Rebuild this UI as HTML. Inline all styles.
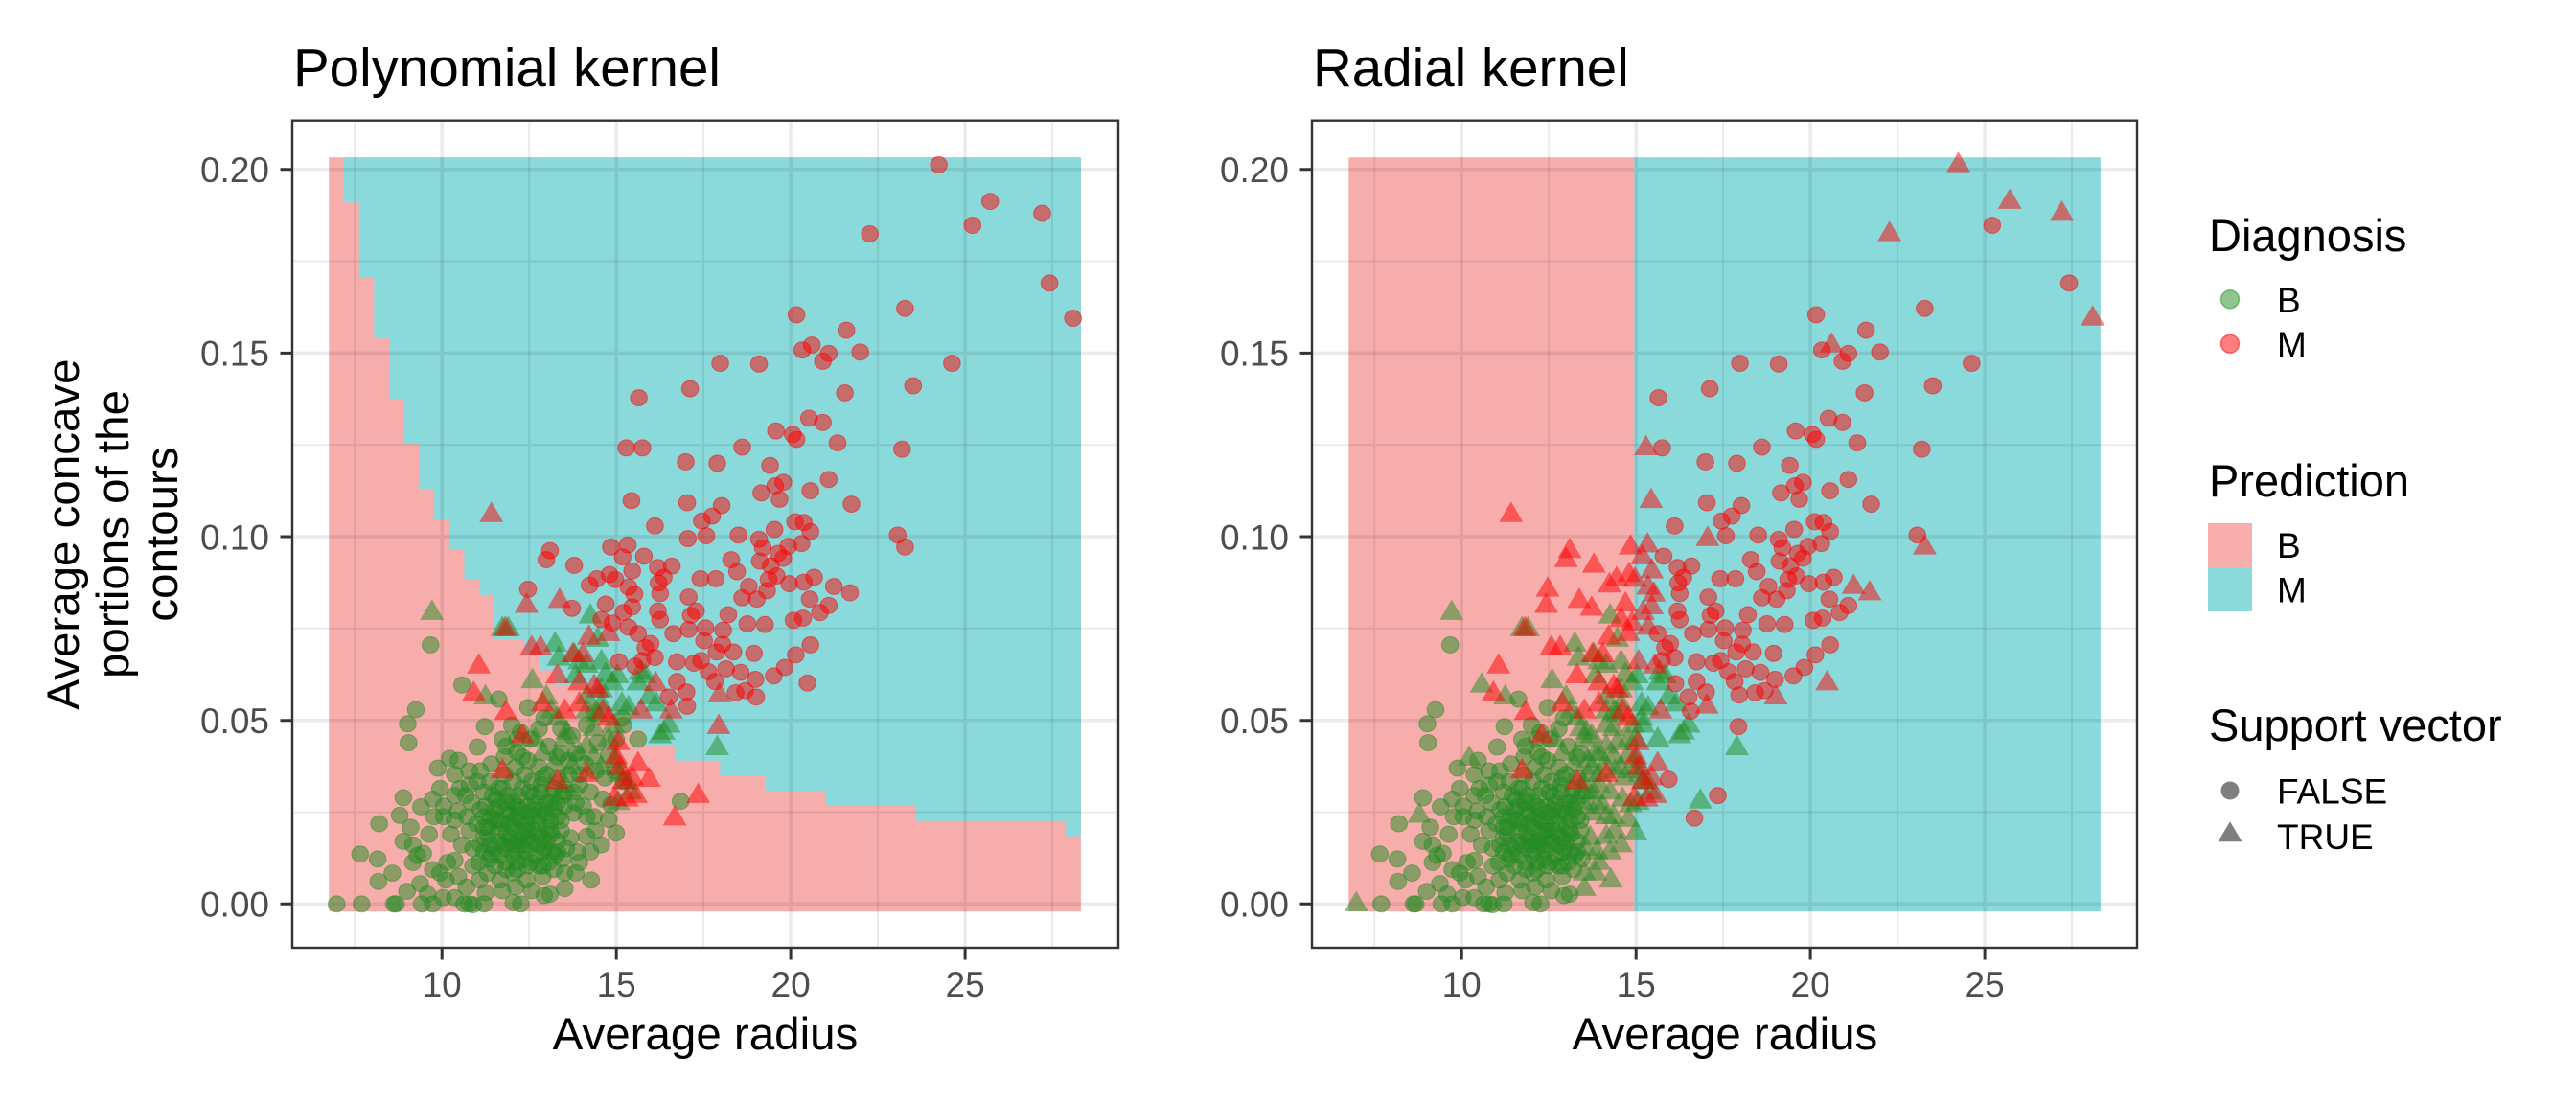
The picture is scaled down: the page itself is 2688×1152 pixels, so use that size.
<!DOCTYPE html>
<html><head><meta charset="utf-8"><style>
html,body{margin:0;padding:0;background:#fff;width:2688px;height:1152px;overflow:hidden;}
svg{display:block;}
text{font-family:"Liberation Sans",Arial,sans-serif;}
</style></head><body>
<svg width="2688" height="1152" viewBox="0 0 2688 1152" xmlns="http://www.w3.org/2000/svg">
<defs>
<circle id="g" r="11.5" fill="#228B22" fill-opacity="0.5" stroke="#228B22" stroke-opacity="0.5" stroke-width="1.3"/>
<circle id="r" r="11.5" fill="#FF0000" fill-opacity="0.5" stroke="#FF0000" stroke-opacity="0.5" stroke-width="1.3"/>
<path id="G" d="M0,-18.6L16.3,10.5L-16.3,10.5Z" fill="#228B22" fill-opacity="0.5"/>
<path id="R" d="M0,-18.6L16.3,10.5L-16.3,10.5Z" fill="#FF0000" fill-opacity="0.5"/>
<g id="core">
<use href="#g" x="660" y="1160"/><use href="#g" x="675" y="1165"/><use href="#g" x="690" y="1150"/><use href="#g" x="705" y="1160"/><use href="#g" x="720" y="1155"/><use href="#g" x="735" y="1170"/><use href="#g" x="750" y="1180"/><use href="#g" x="665" y="1185"/><use href="#g" x="680" y="1195"/><use href="#g" x="695" y="1190"/><use href="#g" x="710" y="1200"/><use href="#g" x="725" y="1195"/><use href="#g" x="740" y="1210"/><use href="#g" x="655" y="1200"/><use href="#g" x="670" y="1215"/><use href="#g" x="685" y="1200"/><use href="#g" x="700" y="1215"/><use href="#g" x="715" y="1220"/><use href="#g" x="730" y="1215"/><use href="#g" x="745" y="1195"/><use href="#g" x="700" y="1165"/><use href="#g" x="715" y="1180"/><use href="#g" x="730" y="1140"/><use href="#g" x="745" y="1155"/><use href="#g" x="690" y="1140"/><use href="#g" x="705" y="1145"/><use href="#g" x="675" y="1150"/><use href="#g" x="660" y="1175"/><use href="#g" x="690" y="1225"/><use href="#g" x="705" y="1235"/><use href="#g" x="720" y="1180"/><use href="#g" x="735" y="1185"/><use href="#g" x="750" y="1140"/><use href="#g" x="760" y="1160"/><use href="#g" x="760" y="1210"/><use href="#g" x="755" y="1235"/><use href="#g" x="740" y="1230"/><use href="#g" x="700" y="1200"/><use href="#g" x="680" y="1165"/><use href="#g" x="720" y="1200"/>
</g>
</defs>
<rect width="2688" height="1152" fill="#fff"/>

<!-- Titles -->
<text x="306" y="90" font-size="56.5" fill="#000">Polynomial kernel</text>
<text x="1370" y="90" font-size="56.5" fill="#000">Radial kernel</text>

<!-- LEFT PANEL fills -->
<rect x="343.3" y="164.2" width="784.6" height="787" fill="#F7ADAC"/>
<path d="M359.0,164.2H1127.9V872.5H1112.2V856.8H955.3V841.0H861.1V825.3H798.4V809.6H751.3V793.8H704.2V778.1H672.8V762.3H657.1V746.6H625.8V730.9H610.1V715.1H578.7V699.4H563.0V683.6H547.3V667.9H515.9V620.7H500.2V604.9H484.5V573.5H468.8V542.0H453.1V510.5H437.4V463.3H421.8V416.1H406.1V353.1H390.4V290.1H374.7V211.4H359.0Z" fill="#8AD9DB"/>
<!-- left grid -->
<path d="M370.2,125.7V989M552.2,125.7V989M734.1,125.7V989M916.1,125.7V989M1098,125.7V989M305,847.5H1167M305,655.8H1167M305,464.2H1167M305,272.5H1167" stroke="#000" stroke-opacity="0.078" stroke-width="2"/>
<path d="M461.2,125.7V989M643.2,125.7V989M825.1,125.7V989M1007.1,125.7V989M305,943.3H1167M305,751.7H1167M305,560H1167M305,368.4H1167M305,176.7H1167" stroke="#000" stroke-opacity="0.078" stroke-width="3.5"/>

<!-- RIGHT PANEL fills -->
<rect x="1407.3" y="164.2" width="298.1" height="787" fill="#F7ADAC"/>
<rect x="1705.4" y="164.2" width="486.5" height="787" fill="#8AD9DB"/>
<g transform="translate(1064,0)">
<path d="M370.2,125.7V989M552.2,125.7V989M734.1,125.7V989M916.1,125.7V989M1098,125.7V989M305,847.5H1167M305,655.8H1167M305,464.2H1167M305,272.5H1167" stroke="#000" stroke-opacity="0.078" stroke-width="2"/>
<path d="M461.2,125.7V989M643.2,125.7V989M825.1,125.7V989M1007.1,125.7V989M305,943.3H1167M305,751.7H1167M305,560H1167M305,368.4H1167M305,176.7H1167" stroke="#000" stroke-opacity="0.078" stroke-width="3.5"/>
</g>

<!-- LEFT POINTS -->
<g transform="matrix(0.76531,0,0,0.73469,0,0)">
<use href="#g" x="459" y="1284"/><use href="#g" x="493" y="1284"/><use href="#g" x="537" y="1284"/><use href="#g" x="540" y="1284"/><use href="#g" x="575" y="1284"/><use href="#g" x="590" y="1284"/><use href="#g" x="633" y="1284"/><use href="#g" x="640" y="1284"/><use href="#g" x="660" y="1284"/><use href="#g" x="710" y="1284"/><use href="#g" x="491" y="1213"/><use href="#g" x="517" y="1170"/><use href="#g" x="516" y="1252"/><use href="#g" x="535" y="1240"/><use href="#g" x="550" y="1133"/><use href="#g" x="557" y="1055"/><use href="#g" x="556" y="1028"/><use href="#g" x="567" y="1008"/><use href="#g" x="587" y="916"/><use href="#g" x="597" y="1091"/><use href="#g" x="613" y="1077"/><use href="#g" x="630" y="973"/><use href="#g" x="680" y="993"/><use href="#g" x="661" y="1032"/><use href="#g" x="651" y="1061"/><use href="#g" x="627" y="1120"/><use href="#g" x="605" y="1160"/><use href="#g" x="577" y="1212"/><use href="#g" x="569" y="1215"/><use href="#g" x="573" y="1255"/><use href="#g" x="583" y="1270"/><use href="#g" x="604" y="1275"/><use href="#g" x="608" y="1250"/><use href="#g" x="610" y="1225"/><use href="#g" x="545" y="1158"/><use href="#g" x="550" y="1195"/><use href="#g" x="560" y="1175"/><use href="#g" x="563" y="1200"/><use href="#g" x="585" y="1185"/><use href="#g" x="592" y="1160"/><use href="#g" x="574" y="1146"/><use href="#g" x="624" y="1152"/><use href="#g" x="640" y="1180"/><use href="#g" x="645" y="1205"/><use href="#g" x="653" y="1225"/><use href="#g" x="654" y="1250"/><use href="#g" x="662" y="1268"/><use href="#g" x="682" y="1250"/><use href="#g" x="703" y="1260"/><use href="#g" x="718" y="1250"/><use href="#g" x="742" y="1272"/><use href="#g" x="770" y="1262"/><use href="#g" x="806" y="1250"/><use href="#g" x="785" y="1240"/><use href="#g" x="767" y="1220"/><use href="#g" x="752" y="1210"/><use href="#g" x="735" y="1230"/><use href="#g" x="724" y="1225"/><use href="#g" x="705" y="1225"/><use href="#g" x="690" y="1235"/><use href="#g" x="675" y="1230"/><use href="#g" x="668" y="1200"/><use href="#g" x="660" y="1190"/><use href="#g" x="636" y="1260"/><use href="#g" x="625" y="1245"/><use href="#g" x="620" y="1222"/><use href="#g" x="690" y="1205"/><use href="#g" x="706" y="1195"/><use href="#g" x="717" y="1208"/><use href="#g" x="740" y="1190"/><use href="#g" x="760" y="1195"/><use href="#g" x="778" y="1190"/><use href="#g" x="800" y="1188"/><use href="#g" x="812" y="1180"/><use href="#g" x="840" y="1183"/><use href="#g" x="830" y="1164"/><use href="#g" x="800" y="1160"/><use href="#g" x="782" y="1155"/><use href="#g" x="765" y="1165"/><use href="#g" x="750" y="1165"/><use href="#g" x="735" y="1160"/><use href="#g" x="718" y="1170"/><use href="#g" x="700" y="1175"/><use href="#g" x="684" y="1170"/><use href="#g" x="670" y="1160"/><use href="#g" x="655" y="1150"/><use href="#g" x="643" y="1140"/><use href="#g" x="640" y="1115"/><use href="#g" x="655" y="1095"/><use href="#g" x="670" y="1085"/><use href="#g" x="688" y="1075"/><use href="#g" x="705" y="1068"/><use href="#g" x="720" y="1080"/><use href="#g" x="735" y="1090"/><use href="#g" x="745" y="1100"/><use href="#g" x="760" y="1105"/><use href="#g" x="775" y="1100"/><use href="#g" x="790" y="1115"/><use href="#g" x="805" y="1125"/><use href="#g" x="822" y="1135"/><use href="#g" x="833" y="1143"/><use href="#g" x="760" y="1140"/><use href="#g" x="745" y="1140"/><use href="#g" x="728" y="1130"/><use href="#g" x="712" y="1120"/><use href="#g" x="700" y="1110"/><use href="#g" x="685" y="1120"/><use href="#g" x="672" y="1130"/><use href="#g" x="660" y="1125"/><use href="#g" x="700" y="1140"/><use href="#g" x="720" y="1145"/><use href="#g" x="738" y="1115"/><use href="#g" x="755" y="1120"/><use href="#g" x="770" y="1125"/><use href="#g" x="680" y="1145"/><use href="#g" x="695" y="1155"/><use href="#g" x="710" y="1150"/><use href="#g" x="728" y="1150"/><use href="#g" x="745" y="1175"/><use href="#g" x="688" y="1100"/><use href="#g" x="703" y="1090"/><use href="#g" x="723" y="1050"/><use href="#g" x="735" y="1035"/><use href="#g" x="710" y="1040"/><use href="#g" x="712" y="1075"/><use href="#g" x="685" y="1050"/><use href="#g" x="698" y="1030"/><use href="#g" x="720" y="1005"/><use href="#g" x="742" y="1020"/><use href="#g" x="748" y="1060"/><use href="#g" x="760" y="1075"/><use href="#g" x="775" y="1080"/><use href="#g" x="785" y="1070"/><use href="#g" x="798" y="1085"/><use href="#g" x="812" y="1095"/><use href="#g" x="825" y="1105"/><use href="#g" x="838" y="1095"/><use href="#g" x="850" y="1110"/><use href="#g" x="680" y="1120"/><use href="#g" x="651" y="1110"/><use href="#g" x="668" y="1110"/><use href="#g" x="635" y="1130"/><use href="#g" x="620" y="1130"/><use href="#g" x="605" y="1145"/><use href="#g" x="590" y="1135"/><use href="#g" x="600" y="1120"/><use href="#g" x="620" y="1100"/><use href="#g" x="780" y="1045"/><use href="#g" x="800" y="1030"/><use href="#g" x="815" y="1055"/><use href="#g" x="765" y="1035"/><use href="#g" x="830" y="1072"/><use href="#g" x="840" y="1050"/><use href="#g" x="850" y="1030"/><use href="#g" x="848" y="1020"/><use href="#g" x="870" y="1050"/><use href="#g" x="810" y="1012"/><use href="#g" x="720" y="1190"/><use href="#g" x="735" y="1200"/><use href="#g" x="752" y="1185"/><use href="#g" x="690" y="1185"/><use href="#g" x="675" y="1205"/><use href="#g" x="660" y="1210"/><use href="#g" x="600" y="1240"/><use href="#g" x="590" y="1235"/><use href="#g" x="563" y="1225"/><use href="#g" x="620" y="1275"/><use href="#g" x="645" y="1285"/><use href="#g" x="700" y="1282"/><use href="#g" x="750" y="1270"/><use href="#g" x="515" y="1220"/><use href="#g" x="928" y="1138"/><use href="#g" x="650" y="1170"/><use href="#g" x="665" y="1175"/><use href="#g" x="680" y="1180"/><use href="#g" x="695" y="1170"/><use href="#g" x="710" y="1165"/><use href="#g" x="725" y="1160"/><use href="#g" x="740" y="1150"/><use href="#g" x="755" y="1150"/><use href="#g" x="770" y="1145"/><use href="#g" x="785" y="1140"/><use href="#g" x="662" y="1145"/><use href="#g" x="677" y="1135"/><use href="#g" x="692" y="1130"/><use href="#g" x="707" y="1130"/><use href="#g" x="722" y="1125"/><use href="#g" x="737" y="1125"/><use href="#g" x="752" y="1130"/><use href="#g" x="767" y="1130"/><use href="#g" x="782" y="1125"/><use href="#g" x="697" y="1195"/><use href="#g" x="712" y="1185"/><use href="#g" x="727" y="1180"/><use href="#g" x="742" y="1205"/><use href="#g" x="757" y="1215"/><use href="#g" x="772" y="1205"/><use href="#g" x="787" y="1210"/><use href="#g" x="682" y="1215"/><use href="#g" x="667" y="1220"/><use href="#g" x="645" y="1230"/><use href="#g" x="630" y="1200"/><use href="#g" x="615" y="1185"/><use href="#g" x="620" y="1165"/><use href="#g" x="637" y="1160"/><use href="#g" x="705" y="1210"/><use href="#g" x="720" y="1230"/><use href="#g" x="740" y="1245"/><use href="#g" x="770" y="1240"/><use href="#g" x="790" y="1225"/><use href="#g" x="805" y="1210"/><use href="#g" x="820" y="1200"/><use href="#g" x="810" y="1160"/><use href="#g" x="795" y="1145"/><use href="#g" x="765" y="1180"/><use href="#g" x="748" y="1225"/><use href="#g" x="700" y="1240"/><use href="#g" x="685" y="1265"/><use href="#g" x="725" y="1265"/><use href="#g" x="665" y="1240"/><use href="#g" x="640" y="1095"/><use href="#g" x="625" y="1080"/><use href="#g" x="690" y="1060"/><use href="#g" x="705" y="1050"/><use href="#g" x="715" y="1100"/><use href="#g" x="725" y="1110"/><use href="#g" x="740" y="1105"/><use href="#g" x="790" y="1100"/><use href="#g" x="765" y="1070"/><use href="#g" x="555" y="1266"/>
<use href="#core"/>
<use href="#G" x="589" y="870"/><use href="#G" x="662" y="990"/><use href="#G" x="685" y="893"/><use href="#G" x="693" y="893"/><use href="#G" x="726" y="967"/><use href="#G" x="745" y="990"/><use href="#G" x="752" y="1010"/><use href="#G" x="760" y="1020"/><use href="#G" x="770" y="1050"/><use href="#G" x="773" y="1040"/><use href="#G" x="762" y="935"/><use href="#G" x="757" y="915"/><use href="#G" x="783" y="930"/><use href="#G" x="790" y="940"/><use href="#G" x="800" y="945"/><use href="#G" x="805" y="875"/><use href="#G" x="815" y="908"/><use href="#G" x="820" y="940"/><use href="#G" x="826" y="958"/><use href="#G" x="835" y="970"/><use href="#G" x="842" y="960"/><use href="#G" x="848" y="1000"/><use href="#G" x="820" y="1000"/><use href="#G" x="836" y="1030"/><use href="#G" x="815" y="1015"/><use href="#G" x="800" y="1010"/><use href="#G" x="810" y="1035"/><use href="#G" x="830" y="1050"/><use href="#G" x="840" y="1080"/><use href="#G" x="845" y="1100"/><use href="#G" x="855" y="1110"/><use href="#G" x="860" y="1125"/><use href="#G" x="843" y="1140"/><use href="#G" x="873" y="955"/><use href="#G" x="885" y="990"/><use href="#G" x="895" y="1000"/><use href="#G" x="900" y="1045"/><use href="#G" x="912" y="1030"/><use href="#G" x="905" y="1040"/><use href="#G" x="880" y="960"/><use href="#G" x="870" y="970"/><use href="#G" x="978" y="1062"/><use href="#G" x="820" y="1090"/><use href="#G" x="810" y="1075"/><use href="#G" x="800" y="1060"/><use href="#G" x="790" y="1070"/><use href="#G" x="780" y="1090"/><use href="#G" x="770" y="1115"/><use href="#G" x="756" y="1085"/><use href="#G" x="740" y="1070"/><use href="#G" x="730" y="1050"/><use href="#G" x="785" y="960"/><use href="#G" x="820" y="980"/><use href="#G" x="800" y="990"/><use href="#G" x="857" y="1005"/>
<use href="#r" x="1280" y="234"/><use href="#r" x="1350" y="286"/><use href="#r" x="1326" y="320"/><use href="#r" x="1421" y="303"/><use href="#r" x="1186" y="332"/><use href="#r" x="1431" y="402"/><use href="#r" x="1463" y="452"/><use href="#r" x="1234" y="438"/><use href="#r" x="1086" y="447"/><use href="#r" x="1154" y="469"/><use href="#r" x="1173" y="500"/><use href="#r" x="1094" y="497"/><use href="#r" x="1107" y="490"/><use href="#r" x="1122" y="513"/><use href="#r" x="1130" y="502"/><use href="#r" x="982" y="516"/><use href="#r" x="1035" y="517"/><use href="#r" x="1298" y="516"/><use href="#r" x="1245" y="548"/><use href="#r" x="1152" y="558"/><use href="#r" x="941" y="552"/><use href="#r" x="871" y="565"/><use href="#r" x="1230" y="638"/><use href="#r" x="1103" y="594"/><use href="#r" x="1122" y="600"/><use href="#r" x="1058" y="612"/><use href="#r" x="1081" y="617"/><use href="#r" x="1086" y="624"/><use href="#r" x="1142" y="629"/><use href="#r" x="1012" y="635"/><use href="#r" x="854" y="636"/><use href="#r" x="876" y="636"/><use href="#r" x="935" y="656"/><use href="#r" x="978" y="658"/><use href="#r" x="1050" y="661"/><use href="#r" x="1130" y="681"/><use href="#r" x="1105" y="697"/><use href="#r" x="1057" y="690"/><use href="#r" x="1068" y="685"/><use href="#r" x="1038" y="700"/><use href="#r" x="1063" y="709"/><use href="#r" x="1161" y="716"/><use href="#r" x="937" y="714"/><use href="#r" x="861" y="711"/><use href="#r" x="984" y="718"/><use href="#r" x="971" y="733"/><use href="#r" x="957" y="740"/><use href="#r" x="1096" y="742"/><use href="#r" x="1056" y="752"/><use href="#r" x="1084" y="741"/><use href="#r" x="1105" y="755"/><use href="#r" x="893" y="747"/><use href="#r" x="1224" y="760"/><use href="#r" x="1234" y="777"/><use href="#r" x="750" y="782"/><use href="#r" x="745" y="795"/><use href="#r" x="783" y="803"/><use href="#r" x="833" y="777"/><use href="#r" x="856" y="774"/><use href="#r" x="878" y="790"/><use href="#r" x="1007" y="760"/><use href="#r" x="1035" y="766"/><use href="#r" x="1040" y="778"/><use href="#r" x="1061" y="786"/><use href="#r" x="1075" y="776"/><use href="#r" x="1093" y="772"/><use href="#r" x="1068" y="793"/><use href="#r" x="1036" y="797"/><use href="#r" x="1051" y="804"/><use href="#r" x="963" y="761"/><use href="#r" x="938" y="765"/><use href="#r" x="897" y="806"/><use href="#r" x="916" y="804"/><use href="#r" x="905" y="820"/><use href="#r" x="898" y="828"/><use href="#r" x="849" y="791"/><use href="#r" x="862" y="811"/><use href="#r" x="831" y="816"/><use href="#r" x="839" y="823"/><use href="#r" x="857" y="834"/><use href="#r" x="865" y="844"/><use href="#r" x="804" y="831"/><use href="#r" x="814" y="822"/><use href="#r" x="826" y="858"/><use href="#r" x="862" y="862"/><use href="#r" x="897" y="868"/><use href="#r" x="900" y="843"/><use href="#r" x="939" y="848"/><use href="#r" x="955" y="822"/><use href="#r" x="976" y="822"/><use href="#r" x="997" y="795"/><use href="#r" x="1005" y="812"/><use href="#r" x="1021" y="833"/><use href="#r" x="1048" y="823"/><use href="#r" x="1059" y="818"/><use href="#r" x="1096" y="827"/><use href="#r" x="1110" y="820"/><use href="#r" x="1137" y="833"/><use href="#r" x="1159" y="842"/><use href="#r" x="1104" y="851"/><use href="#r" x="1076" y="829"/><use href="#r" x="1012" y="849"/><use href="#r" x="1032" y="851"/><use href="#r" x="1046" y="839"/><use href="#r" x="1019" y="886"/><use href="#r" x="1043" y="887"/><use href="#r" x="1095" y="878"/><use href="#r" x="1082" y="881"/><use href="#r" x="942" y="874"/><use href="#r" x="939" y="894"/><use href="#r" x="962" y="892"/><use href="#r" x="949" y="868"/><use href="#r" x="993" y="873"/><use href="#r" x="986" y="895"/><use href="#r" x="1105" y="916"/><use href="#r" x="1028" y="928"/><use href="#r" x="1000" y="926"/><use href="#r" x="977" y="926"/><use href="#r" x="923" y="940"/><use href="#r" x="946" y="942"/><use href="#r" x="956" y="938"/><use href="#r" x="887" y="914"/><use href="#r" x="857" y="891"/><use href="#r" x="876" y="938"/><use href="#r" x="893" y="934"/><use href="#r" x="923" y="968"/><use href="#r" x="936" y="983"/><use href="#r" x="966" y="954"/><use href="#r" x="1030" y="965"/><use href="#r" x="1101" y="970"/><use href="#r" x="1016" y="981"/><use href="#r" x="1031" y="990"/><use href="#r" x="1003" y="984"/><use href="#r" x="937" y="1003"/><use href="#r" x="912" y="990"/><use href="#r" x="844" y="940"/><use href="#r" x="866" y="946"/><use href="#r" x="850" y="870"/><use href="#r" x="835" y="885"/><use href="#r" x="820" y="880"/><use href="#r" x="870" y="900"/><use href="#r" x="880" y="920"/><use href="#r" x="975" y="968"/><use href="#r" x="990" y="950"/><use href="#r" x="1010" y="955"/><use href="#r" x="1055" y="960"/><use href="#r" x="1070" y="948"/><use href="#r" x="1085" y="930"/><use href="#r" x="1118" y="870"/><use href="#r" x="1130" y="860"/><use href="#r" x="900" y="880"/><use href="#r" x="918" y="900"/><use href="#r" x="960" y="910"/><use href="#r" x="985" y="915"/><use href="#r" x="720" y="837"/><use href="#r" x="780" y="864"/>
<use href="#R" x="670" y="731"/><use href="#R" x="718" y="860"/><use href="#R" x="763" y="853"/><use href="#R" x="689" y="893"/><use href="#R" x="653" y="946"/><use href="#R" x="646" y="985"/><use href="#R" x="690" y="1012"/><use href="#R" x="725" y="920"/><use href="#R" x="737" y="920"/><use href="#R" x="781" y="930"/><use href="#R" x="795" y="930"/><use href="#R" x="810" y="975"/><use href="#R" x="815" y="980"/><use href="#R" x="822" y="1010"/><use href="#R" x="830" y="1020"/><use href="#R" x="843" y="1055"/><use href="#R" x="840" y="1075"/><use href="#R" x="845" y="1090"/><use href="#R" x="850" y="1110"/><use href="#R" x="855" y="1135"/><use href="#R" x="867" y="1130"/><use href="#R" x="885" y="1107"/><use href="#R" x="920" y="1162"/><use href="#R" x="952" y="1130"/><use href="#R" x="980" y="1032"/><use href="#R" x="712" y="1045"/><use href="#R" x="760" y="960"/><use href="#R" x="790" y="1000"/><use href="#R" x="740" y="1000"/><use href="#R" x="770" y="1010"/><use href="#R" x="790" y="970"/><use href="#R" x="803" y="905"/><use href="#R" x="830" y="900"/><use href="#R" x="870" y="1085"/><use href="#R" x="862" y="1105"/><use href="#R" x="685" y="1095"/><use href="#R" x="760" y="1110"/><use href="#R" x="800" y="1100"/><use href="#R" x="981" y="987"/><use href="#R" x="915" y="1010"/><use href="#R" x="874" y="1010"/><use href="#R" x="894" y="971"/><use href="#R" x="838" y="1134"/>
</g>

<!-- RIGHT POINTS -->
<g transform="translate(1064,0) matrix(0.76531,0,0,0.73469,0,0)">
<use href="#g" x="493" y="1284"/><use href="#g" x="537" y="1284"/><use href="#g" x="540" y="1284"/><use href="#g" x="575" y="1284"/><use href="#g" x="590" y="1284"/><use href="#g" x="633" y="1284"/><use href="#g" x="640" y="1284"/><use href="#g" x="660" y="1284"/><use href="#g" x="710" y="1284"/><use href="#g" x="491" y="1213"/><use href="#g" x="517" y="1170"/><use href="#g" x="516" y="1252"/><use href="#g" x="535" y="1240"/><use href="#g" x="550" y="1133"/><use href="#g" x="557" y="1055"/><use href="#g" x="556" y="1028"/><use href="#g" x="567" y="1008"/><use href="#g" x="587" y="916"/><use href="#g" x="597" y="1091"/><use href="#g" x="680" y="993"/><use href="#g" x="661" y="1032"/><use href="#g" x="651" y="1061"/><use href="#g" x="627" y="1120"/><use href="#g" x="605" y="1160"/><use href="#g" x="577" y="1212"/><use href="#g" x="569" y="1215"/><use href="#g" x="573" y="1255"/><use href="#g" x="583" y="1270"/><use href="#g" x="604" y="1275"/><use href="#g" x="608" y="1250"/><use href="#g" x="610" y="1225"/><use href="#g" x="550" y="1195"/><use href="#g" x="560" y="1175"/><use href="#g" x="563" y="1200"/><use href="#g" x="585" y="1185"/><use href="#g" x="592" y="1160"/><use href="#g" x="574" y="1146"/><use href="#g" x="624" y="1152"/><use href="#g" x="640" y="1180"/><use href="#g" x="645" y="1205"/><use href="#g" x="653" y="1225"/><use href="#g" x="654" y="1250"/><use href="#g" x="662" y="1268"/><use href="#g" x="682" y="1250"/><use href="#g" x="703" y="1260"/><use href="#g" x="718" y="1250"/><use href="#g" x="742" y="1272"/><use href="#g" x="767" y="1220"/><use href="#g" x="752" y="1210"/><use href="#g" x="735" y="1230"/><use href="#g" x="724" y="1225"/><use href="#g" x="705" y="1225"/><use href="#g" x="690" y="1235"/><use href="#g" x="675" y="1230"/><use href="#g" x="668" y="1200"/><use href="#g" x="660" y="1190"/><use href="#g" x="636" y="1260"/><use href="#g" x="625" y="1245"/><use href="#g" x="620" y="1222"/><use href="#g" x="690" y="1205"/><use href="#g" x="706" y="1195"/><use href="#g" x="717" y="1208"/><use href="#g" x="740" y="1190"/><use href="#g" x="760" y="1195"/><use href="#g" x="765" y="1165"/><use href="#g" x="750" y="1165"/><use href="#g" x="735" y="1160"/><use href="#g" x="718" y="1170"/><use href="#g" x="700" y="1175"/><use href="#g" x="684" y="1170"/><use href="#g" x="670" y="1160"/><use href="#g" x="655" y="1150"/><use href="#g" x="643" y="1140"/><use href="#g" x="640" y="1115"/><use href="#g" x="655" y="1095"/><use href="#g" x="670" y="1085"/><use href="#g" x="688" y="1075"/><use href="#g" x="705" y="1068"/><use href="#g" x="720" y="1080"/><use href="#g" x="735" y="1090"/><use href="#g" x="745" y="1100"/><use href="#g" x="760" y="1105"/><use href="#g" x="760" y="1140"/><use href="#g" x="745" y="1140"/><use href="#g" x="728" y="1130"/><use href="#g" x="712" y="1120"/><use href="#g" x="700" y="1110"/><use href="#g" x="685" y="1120"/><use href="#g" x="672" y="1130"/><use href="#g" x="660" y="1125"/><use href="#g" x="700" y="1140"/><use href="#g" x="720" y="1145"/><use href="#g" x="738" y="1115"/><use href="#g" x="755" y="1120"/><use href="#g" x="680" y="1145"/><use href="#g" x="695" y="1155"/><use href="#g" x="710" y="1150"/><use href="#g" x="728" y="1150"/><use href="#g" x="745" y="1175"/><use href="#g" x="688" y="1100"/><use href="#g" x="703" y="1090"/><use href="#g" x="723" y="1050"/><use href="#g" x="735" y="1035"/><use href="#g" x="710" y="1040"/><use href="#g" x="712" y="1075"/><use href="#g" x="685" y="1050"/><use href="#g" x="698" y="1030"/><use href="#g" x="720" y="1005"/><use href="#g" x="742" y="1020"/><use href="#g" x="748" y="1060"/><use href="#g" x="760" y="1075"/><use href="#g" x="680" y="1120"/><use href="#g" x="651" y="1110"/><use href="#g" x="668" y="1110"/><use href="#g" x="635" y="1130"/><use href="#g" x="620" y="1130"/><use href="#g" x="605" y="1145"/><use href="#g" x="590" y="1135"/><use href="#g" x="600" y="1120"/><use href="#g" x="620" y="1100"/><use href="#g" x="720" y="1190"/><use href="#g" x="735" y="1200"/><use href="#g" x="752" y="1185"/><use href="#g" x="690" y="1185"/><use href="#g" x="675" y="1205"/><use href="#g" x="660" y="1210"/><use href="#g" x="600" y="1240"/><use href="#g" x="590" y="1235"/><use href="#g" x="563" y="1225"/><use href="#g" x="620" y="1275"/><use href="#g" x="645" y="1285"/><use href="#g" x="700" y="1282"/><use href="#g" x="750" y="1270"/><use href="#g" x="515" y="1220"/><use href="#g" x="650" y="1170"/><use href="#g" x="665" y="1175"/><use href="#g" x="680" y="1180"/><use href="#g" x="695" y="1170"/><use href="#g" x="710" y="1165"/><use href="#g" x="725" y="1160"/><use href="#g" x="740" y="1150"/><use href="#g" x="755" y="1150"/><use href="#g" x="662" y="1145"/><use href="#g" x="677" y="1135"/><use href="#g" x="692" y="1130"/><use href="#g" x="707" y="1130"/><use href="#g" x="722" y="1125"/><use href="#g" x="737" y="1125"/><use href="#g" x="752" y="1130"/><use href="#g" x="767" y="1130"/><use href="#g" x="697" y="1195"/><use href="#g" x="712" y="1185"/><use href="#g" x="727" y="1180"/><use href="#g" x="742" y="1205"/><use href="#g" x="757" y="1215"/><use href="#g" x="682" y="1215"/><use href="#g" x="667" y="1220"/><use href="#g" x="645" y="1230"/><use href="#g" x="630" y="1200"/><use href="#g" x="615" y="1185"/><use href="#g" x="620" y="1165"/><use href="#g" x="637" y="1160"/><use href="#g" x="705" y="1210"/><use href="#g" x="720" y="1230"/><use href="#g" x="740" y="1245"/><use href="#g" x="765" y="1180"/><use href="#g" x="748" y="1225"/><use href="#g" x="700" y="1240"/><use href="#g" x="685" y="1265"/><use href="#g" x="725" y="1265"/><use href="#g" x="665" y="1240"/><use href="#g" x="640" y="1095"/><use href="#g" x="625" y="1080"/><use href="#g" x="690" y="1060"/><use href="#g" x="705" y="1050"/><use href="#g" x="715" y="1100"/><use href="#g" x="725" y="1110"/><use href="#g" x="740" y="1105"/><use href="#g" x="765" y="1070"/><use href="#g" x="555" y="1266"/>
<use href="#core"/>
<use href="#G" x="459" y="1284"/><use href="#G" x="613" y="1077"/><use href="#G" x="630" y="973"/><use href="#G" x="545" y="1158"/><use href="#G" x="770" y="1262"/><use href="#G" x="806" y="1250"/><use href="#G" x="785" y="1240"/><use href="#G" x="778" y="1190"/><use href="#G" x="800" y="1188"/><use href="#G" x="812" y="1180"/><use href="#G" x="840" y="1183"/><use href="#G" x="830" y="1164"/><use href="#G" x="800" y="1160"/><use href="#G" x="782" y="1155"/><use href="#G" x="775" y="1100"/><use href="#G" x="790" y="1115"/><use href="#G" x="805" y="1125"/><use href="#G" x="822" y="1135"/><use href="#G" x="833" y="1143"/><use href="#G" x="770" y="1125"/><use href="#G" x="775" y="1080"/><use href="#G" x="785" y="1070"/><use href="#G" x="798" y="1085"/><use href="#G" x="812" y="1095"/><use href="#G" x="825" y="1105"/><use href="#G" x="838" y="1095"/><use href="#G" x="850" y="1110"/><use href="#G" x="780" y="1045"/><use href="#G" x="800" y="1030"/><use href="#G" x="815" y="1055"/><use href="#G" x="765" y="1035"/><use href="#G" x="830" y="1072"/><use href="#G" x="840" y="1050"/><use href="#G" x="850" y="1030"/><use href="#G" x="848" y="1020"/><use href="#G" x="870" y="1050"/><use href="#G" x="810" y="1012"/><use href="#G" x="928" y="1138"/><use href="#G" x="770" y="1145"/><use href="#G" x="785" y="1140"/><use href="#G" x="782" y="1125"/><use href="#G" x="772" y="1205"/><use href="#G" x="787" y="1210"/><use href="#G" x="770" y="1240"/><use href="#G" x="790" y="1225"/><use href="#G" x="805" y="1210"/><use href="#G" x="820" y="1200"/><use href="#G" x="810" y="1160"/><use href="#G" x="795" y="1145"/><use href="#G" x="790" y="1100"/>
<use href="#G" x="589" y="870"/><use href="#G" x="662" y="990"/><use href="#G" x="685" y="893"/><use href="#G" x="693" y="893"/><use href="#G" x="726" y="967"/><use href="#G" x="745" y="990"/><use href="#G" x="752" y="1010"/><use href="#G" x="760" y="1020"/><use href="#G" x="770" y="1050"/><use href="#G" x="773" y="1040"/><use href="#G" x="762" y="935"/><use href="#G" x="757" y="915"/><use href="#G" x="783" y="930"/><use href="#G" x="790" y="940"/><use href="#G" x="800" y="945"/><use href="#G" x="805" y="875"/><use href="#G" x="815" y="908"/><use href="#G" x="820" y="940"/><use href="#G" x="826" y="958"/><use href="#G" x="835" y="970"/><use href="#G" x="842" y="960"/><use href="#G" x="848" y="1000"/><use href="#G" x="820" y="1000"/><use href="#G" x="836" y="1030"/><use href="#G" x="815" y="1015"/><use href="#G" x="800" y="1010"/><use href="#G" x="810" y="1035"/><use href="#G" x="830" y="1050"/><use href="#G" x="840" y="1080"/><use href="#G" x="845" y="1100"/><use href="#G" x="855" y="1110"/><use href="#G" x="860" y="1125"/><use href="#G" x="843" y="1140"/><use href="#G" x="873" y="955"/><use href="#G" x="885" y="990"/><use href="#G" x="895" y="1000"/><use href="#G" x="900" y="1045"/><use href="#G" x="912" y="1030"/><use href="#G" x="905" y="1040"/><use href="#G" x="880" y="960"/><use href="#G" x="870" y="970"/><use href="#G" x="978" y="1062"/><use href="#G" x="820" y="1090"/><use href="#G" x="810" y="1075"/><use href="#G" x="800" y="1060"/><use href="#G" x="790" y="1070"/><use href="#G" x="780" y="1090"/><use href="#G" x="770" y="1115"/><use href="#G" x="756" y="1085"/><use href="#G" x="740" y="1070"/><use href="#G" x="730" y="1050"/><use href="#G" x="785" y="960"/><use href="#G" x="820" y="980"/><use href="#G" x="800" y="990"/><use href="#G" x="857" y="1005"/>
<use href="#r" x="1326" y="320"/><use href="#r" x="1431" y="402"/><use href="#r" x="1234" y="438"/><use href="#r" x="1086" y="447"/><use href="#r" x="1154" y="469"/><use href="#r" x="1173" y="500"/><use href="#r" x="1094" y="497"/><use href="#r" x="1122" y="513"/><use href="#r" x="1130" y="502"/><use href="#r" x="982" y="516"/><use href="#r" x="1035" y="517"/><use href="#r" x="1298" y="516"/><use href="#r" x="1245" y="548"/><use href="#r" x="1152" y="558"/><use href="#r" x="941" y="552"/><use href="#r" x="871" y="565"/><use href="#r" x="1230" y="638"/><use href="#r" x="1103" y="594"/><use href="#r" x="1122" y="600"/><use href="#r" x="1058" y="612"/><use href="#r" x="1081" y="617"/><use href="#r" x="1086" y="624"/><use href="#r" x="1142" y="629"/><use href="#r" x="1012" y="635"/><use href="#r" x="876" y="636"/><use href="#r" x="935" y="656"/><use href="#r" x="978" y="658"/><use href="#r" x="1050" y="661"/><use href="#r" x="1130" y="681"/><use href="#r" x="1105" y="697"/><use href="#r" x="1057" y="690"/><use href="#r" x="1068" y="685"/><use href="#r" x="1038" y="700"/><use href="#r" x="1063" y="709"/><use href="#r" x="1161" y="716"/><use href="#r" x="937" y="714"/><use href="#r" x="984" y="718"/><use href="#r" x="971" y="733"/><use href="#r" x="957" y="740"/><use href="#r" x="1096" y="742"/><use href="#r" x="1056" y="752"/><use href="#r" x="1084" y="741"/><use href="#r" x="1105" y="755"/><use href="#r" x="893" y="747"/><use href="#r" x="1224" y="760"/><use href="#r" x="878" y="790"/><use href="#r" x="1007" y="760"/><use href="#r" x="1035" y="766"/><use href="#r" x="1040" y="778"/><use href="#r" x="1061" y="786"/><use href="#r" x="1075" y="776"/><use href="#r" x="1093" y="772"/><use href="#r" x="1068" y="793"/><use href="#r" x="1036" y="797"/><use href="#r" x="1051" y="804"/><use href="#r" x="963" y="761"/><use href="#r" x="897" y="806"/><use href="#r" x="916" y="804"/><use href="#r" x="905" y="820"/><use href="#r" x="898" y="828"/><use href="#r" x="897" y="868"/><use href="#r" x="900" y="843"/><use href="#r" x="939" y="848"/><use href="#r" x="955" y="822"/><use href="#r" x="976" y="822"/><use href="#r" x="997" y="795"/><use href="#r" x="1005" y="812"/><use href="#r" x="1021" y="833"/><use href="#r" x="1048" y="823"/><use href="#r" x="1059" y="818"/><use href="#r" x="1096" y="827"/><use href="#r" x="1110" y="820"/><use href="#r" x="1104" y="851"/><use href="#r" x="1076" y="829"/><use href="#r" x="1012" y="849"/><use href="#r" x="1032" y="851"/><use href="#r" x="1046" y="839"/><use href="#r" x="1019" y="886"/><use href="#r" x="1043" y="887"/><use href="#r" x="1095" y="878"/><use href="#r" x="1082" y="881"/><use href="#r" x="942" y="874"/><use href="#r" x="939" y="894"/><use href="#r" x="962" y="892"/><use href="#r" x="949" y="868"/><use href="#r" x="993" y="873"/><use href="#r" x="986" y="895"/><use href="#r" x="1105" y="916"/><use href="#r" x="1028" y="928"/><use href="#r" x="1000" y="926"/><use href="#r" x="977" y="926"/><use href="#r" x="923" y="940"/><use href="#r" x="946" y="942"/><use href="#r" x="956" y="938"/><use href="#r" x="887" y="914"/><use href="#r" x="876" y="938"/><use href="#r" x="893" y="934"/><use href="#r" x="923" y="968"/><use href="#r" x="936" y="983"/><use href="#r" x="966" y="954"/><use href="#r" x="1030" y="965"/><use href="#r" x="1016" y="981"/><use href="#r" x="1003" y="984"/><use href="#r" x="912" y="990"/><use href="#r" x="870" y="900"/><use href="#r" x="880" y="920"/><use href="#r" x="975" y="968"/><use href="#r" x="990" y="950"/><use href="#r" x="1010" y="955"/><use href="#r" x="1055" y="960"/><use href="#r" x="1070" y="948"/><use href="#r" x="1085" y="930"/><use href="#r" x="1118" y="870"/><use href="#r" x="1130" y="860"/><use href="#r" x="900" y="880"/><use href="#r" x="918" y="900"/><use href="#r" x="960" y="910"/><use href="#r" x="985" y="915"/><use href="#r" x="885" y="1107"/><use href="#r" x="920" y="1162"/><use href="#r" x="952" y="1130"/><use href="#r" x="980" y="1032"/><use href="#r" x="981" y="987"/><use href="#r" x="915" y="1010"/><use href="#r" x="894" y="971"/>
<use href="#R" x="670" y="731"/><use href="#R" x="718" y="860"/><use href="#R" x="763" y="853"/><use href="#R" x="689" y="893"/><use href="#R" x="653" y="946"/><use href="#R" x="646" y="985"/><use href="#R" x="690" y="1012"/><use href="#R" x="725" y="920"/><use href="#R" x="737" y="920"/><use href="#R" x="781" y="930"/><use href="#R" x="795" y="930"/><use href="#R" x="810" y="975"/><use href="#R" x="815" y="980"/><use href="#R" x="822" y="1010"/><use href="#R" x="830" y="1020"/><use href="#R" x="843" y="1055"/><use href="#R" x="840" y="1075"/><use href="#R" x="845" y="1090"/><use href="#R" x="850" y="1110"/><use href="#R" x="855" y="1135"/><use href="#R" x="867" y="1130"/><use href="#R" x="712" y="1045"/><use href="#R" x="760" y="960"/><use href="#R" x="790" y="1000"/><use href="#R" x="740" y="1000"/><use href="#R" x="770" y="1010"/><use href="#R" x="790" y="970"/><use href="#R" x="803" y="905"/><use href="#R" x="830" y="900"/><use href="#R" x="870" y="1085"/><use href="#R" x="862" y="1105"/><use href="#R" x="685" y="1095"/><use href="#R" x="760" y="1110"/><use href="#R" x="800" y="1100"/><use href="#R" x="874" y="1010"/><use href="#R" x="838" y="1134"/><use href="#R" x="854" y="636"/><use href="#R" x="861" y="711"/><use href="#R" x="750" y="782"/><use href="#R" x="745" y="795"/><use href="#R" x="783" y="803"/><use href="#R" x="833" y="777"/><use href="#R" x="856" y="774"/><use href="#R" x="849" y="791"/><use href="#R" x="862" y="811"/><use href="#R" x="831" y="816"/><use href="#R" x="839" y="823"/><use href="#R" x="857" y="834"/><use href="#R" x="865" y="844"/><use href="#R" x="804" y="831"/><use href="#R" x="814" y="822"/><use href="#R" x="826" y="858"/><use href="#R" x="862" y="862"/><use href="#R" x="857" y="891"/><use href="#R" x="844" y="940"/><use href="#R" x="866" y="946"/><use href="#R" x="850" y="870"/><use href="#R" x="835" y="885"/><use href="#R" x="820" y="880"/><use href="#R" x="720" y="837"/><use href="#R" x="780" y="864"/><use href="#R" x="1280" y="234"/><use href="#R" x="1350" y="286"/><use href="#R" x="1421" y="303"/><use href="#R" x="1186" y="332"/><use href="#R" x="1463" y="452"/><use href="#R" x="1107" y="490"/><use href="#R" x="1234" y="777"/><use href="#R" x="1137" y="833"/><use href="#R" x="1159" y="842"/><use href="#R" x="1101" y="970"/><use href="#R" x="1031" y="990"/><use href="#R" x="937" y="1003"/><use href="#R" x="938" y="765"/>
</g>

<!-- Panel borders -->
<rect x="305" y="125.7" width="862" height="863.3" fill="none" stroke="#333333" stroke-width="2.4"/>
<rect x="1369" y="125.7" width="861" height="863.3" fill="none" stroke="#333333" stroke-width="2.4"/>

<!-- Ticks -->
<path d="M292.5,943.3H305M292.5,751.7H305M292.5,560H305M292.5,368.4H305M292.5,176.7H305M461.2,989V1001.5M643.2,989V1001.5M825.1,989V1001.5M1007.1,989V1001.5" stroke="#333333" stroke-width="3"/>
<path transform="translate(1064,0)" d="M292.5,943.3H305M292.5,751.7H305M292.5,560H305M292.5,368.4H305M292.5,176.7H305M461.2,989V1001.5M643.2,989V1001.5M825.1,989V1001.5M1007.1,989V1001.5" stroke="#333333" stroke-width="3"/>

<!-- Tick labels -->
<g font-size="37" fill="#4D4D4D" text-anchor="end">
<text x="281" y="956.6">0.00</text>
<text x="281" y="765">0.05</text>
<text x="281" y="573.3">0.10</text>
<text x="281" y="381.7">0.15</text>
<text x="281" y="190">0.20</text>
<text x="1345" y="956.6">0.00</text>
<text x="1345" y="765">0.05</text>
<text x="1345" y="573.3">0.10</text>
<text x="1345" y="381.7">0.15</text>
<text x="1345" y="190">0.20</text>
</g>
<g font-size="37" fill="#4D4D4D" text-anchor="middle">
<text x="461.2" y="1040">10</text>
<text x="643.2" y="1040">15</text>
<text x="825.1" y="1040">20</text>
<text x="1007.1" y="1040">25</text>
<text x="1525.2" y="1040">10</text>
<text x="1707.2" y="1040">15</text>
<text x="1889.1" y="1040">20</text>
<text x="2071.1" y="1040">25</text>
</g>

<!-- Axis titles -->
<g font-size="47.5" fill="#000" text-anchor="middle">
<text x="736" y="1095">Average radius</text>
<text x="1800" y="1095">Average radius</text>
<text transform="translate(82,557.5) rotate(-90)">Average concave</text>
<text transform="translate(134,557.5) rotate(-90)">portions of the</text>
<text transform="translate(185,557.5) rotate(-90)">contours</text>
</g>

<!-- Legend -->
<g font-size="47" fill="#000">
<text x="2305" y="262">Diagnosis</text>
<text x="2305" y="518">Prediction</text>
<text x="2305" y="773">Support vector</text>
</g>
<circle cx="2327" cy="312.3" r="9.5" fill="#228B22" fill-opacity="0.5" stroke="#228B22" stroke-opacity="0.5" stroke-width="1.5"/>
<circle cx="2327" cy="358.7" r="9.5" fill="#FF0000" fill-opacity="0.5" stroke="#FF0000" stroke-opacity="0.5" stroke-width="1.5"/>
<rect x="2304" y="546" width="46" height="46" fill="#F7ADAC"/>
<rect x="2304" y="592" width="46" height="46" fill="#8AD9DB"/>
<circle cx="2327" cy="825" r="9.5" fill="#000" fill-opacity="0.5"/>
<path d="M2327,857.3L2339.5,878.3L2314.5,878.3Z" fill="#000" fill-opacity="0.5"/>
<g font-size="37" fill="#000">
<text x="2376" y="325.8">B</text>
<text x="2376" y="372.2">M</text>
<text x="2376" y="582">B</text>
<text x="2376" y="628.5">M</text>
<text x="2376" y="838.6">FALSE</text>
<text x="2376" y="886">TRUE</text>
</g>
</svg>
</body></html>
